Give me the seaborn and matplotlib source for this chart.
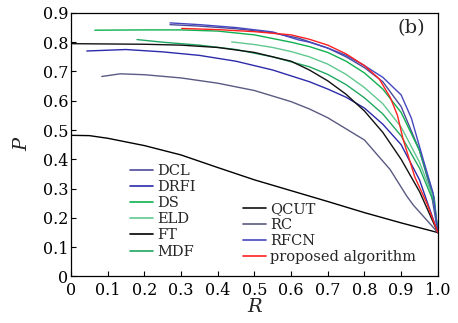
import numpy as np
import pandas as pd
import matplotlib
matplotlib.use("Agg")
import matplotlib.pyplot as plt
import seaborn as sns

# ------------------------------------------------------------------ #
# PR curves
# ------------------------------------------------------------------ #
methods = ["DCL", "DRFI", "DS", "ELD", "FT", "MDF",
           "QCUT", "RC", "RFCN", "proposed algorithm"]

colors = ["#4b4b9b", "#2b2bab", "#10b050", "#60c890", "#000000",
          "#20a860", "#111111", "#5a5a82", "#4646c0", "#ff2020"]

r_dcl = [0.27, 0.35, 0.45, 0.55, 0.62, 0.7, 0.75, 0.8, 0.85, 0.9, 0.95, 0.98, 1.0]
p_dcl = [0.860, 0.855, 0.846, 0.832, 0.814, 0.780, 0.750, 0.713, 0.665, 0.580, 0.430, 0.300, 0.150]

r_drfi = [0.043, 0.15, 0.25, 0.35, 0.45, 0.55, 0.65, 0.7, 0.75, 0.8, 0.85, 0.9, 0.95, 1.0]
p_drfi = [0.770, 0.775, 0.767, 0.755, 0.735, 0.705, 0.665, 0.640, 0.612, 0.575, 0.520, 0.450, 0.330, 0.150]

r_ds = [0.065, 0.2, 0.3, 0.4, 0.5, 0.6, 0.65, 0.7, 0.75, 0.8, 0.85, 0.9, 0.95, 0.99, 1.0]
p_ds = [0.841, 0.842, 0.842, 0.838, 0.825, 0.800, 0.785, 0.765, 0.735, 0.695, 0.640, 0.560, 0.430, 0.270, 0.150]

r_eld = [0.438, 0.5, 0.55, 0.6, 0.65, 0.7, 0.75, 0.8, 0.85, 0.9, 0.95, 0.99, 1.0]
p_eld = [0.801, 0.792, 0.782, 0.768, 0.750, 0.725, 0.690, 0.645, 0.590, 0.510, 0.390, 0.260, 0.150]

r_ft = [0.0, 0.05, 0.1, 0.2, 0.3, 0.4, 0.5, 0.6, 0.7, 0.8, 0.9, 1.0]
p_ft = [0.482, 0.481, 0.472, 0.447, 0.415, 0.372, 0.330, 0.293, 0.256, 0.218, 0.183, 0.150]

r_mdf = [0.18, 0.25, 0.35, 0.45, 0.55, 0.65, 0.7, 0.75, 0.8, 0.85, 0.9, 0.95, 0.99, 1.0]
p_mdf = [0.809, 0.800, 0.790, 0.775, 0.750, 0.716, 0.690, 0.655, 0.610, 0.555, 0.480, 0.370, 0.250, 0.150]

r_qcut = [0.0, 0.1, 0.2, 0.3, 0.4, 0.5, 0.6, 0.65, 0.7, 0.75, 0.8, 0.85, 0.9, 0.95, 1.0]
p_qcut = [0.795, 0.794, 0.793, 0.790, 0.782, 0.765, 0.735, 0.705, 0.668, 0.622, 0.565, 0.492, 0.400, 0.290, 0.150]

r_rc = [0.084, 0.134, 0.2, 0.3, 0.4, 0.5, 0.6, 0.65, 0.7, 0.8, 0.87, 0.915, 0.933, 1.0]
p_rc = [0.683, 0.692, 0.689, 0.678, 0.660, 0.635, 0.597, 0.572, 0.542, 0.466, 0.365, 0.275, 0.244, 0.150]

r_rfcn = [0.27, 0.35, 0.45, 0.55, 0.62, 0.65, 0.7, 0.75, 0.8, 0.85, 0.9, 0.928, 0.96, 0.987, 1.0]
p_rfcn = [0.866, 0.860, 0.850, 0.835, 0.808, 0.800, 0.780, 0.755, 0.720, 0.680, 0.620, 0.540, 0.400, 0.285, 0.150]

r_prop = [0.302, 0.4, 0.5, 0.6, 0.65, 0.7, 0.75, 0.8, 0.84, 0.87, 0.89, 0.905, 0.937, 0.97, 1.0]
p_prop = [0.847, 0.843, 0.836, 0.825, 0.810, 0.790, 0.760, 0.720, 0.675, 0.612, 0.550, 0.470, 0.340, 0.250, 0.150]

recalls = [r_dcl, r_drfi, r_ds, r_eld, r_ft, r_mdf, r_qcut, r_rc, r_rfcn, r_prop]
precisions = [p_dcl, p_drfi, p_ds, p_eld, p_ft, p_mdf, p_qcut, p_rc, p_rfcn, p_prop]

x_ticks = [0, 0.1, 0.2, 0.3, 0.4, 0.5, 0.6, 0.7, 0.8, 0.9, 1.0]
x_tick_labels = ["0", "0.1", "0.2", "0.3", "0.4", "0.5", "0.6", "0.7", "0.8", "0.9", "1.0"]
y_ticks = [0, 0.1, 0.2, 0.3, 0.4, 0.5, 0.6, 0.7, 0.8, 0.9]
y_tick_labels = ["0", "0.1", "0.2", "0.3", "0.4", "0.5", "0.6", "0.7", "0.8", "0.9"]

# long table for seaborn
rows = []
for name, rr, pp in zip(methods, recalls, precisions):
    for r, p in zip(rr, pp):
        rows.append({"method": name, "R": r, "P": p})
df = pd.DataFrame(rows)

# ------------------------------------------------------------------ #
# Plot
# ------------------------------------------------------------------ #
sns.set_style("ticks")
plt.rcParams["font.family"] = ["DejaVu Serif"]

fig = plt.figure(figsize=(4.58, 3.23), dpi=100)
ax = fig.add_axes([0.155, 0.144, 0.801, 0.816])

sns.lineplot(
    data=df, x="R", y="P", hue="method",
    hue_order=methods, palette=dict(zip(methods, colors)),
    sort=False, estimator=None, units="method",
    linewidth=1.0, legend=True, ax=ax,
)

ax.set_xlim(0, 1.0)
ax.set_ylim(0, 0.9)
ax.set_xticks(x_ticks)
ax.set_xticklabels(x_tick_labels)
ax.set_yticks(y_ticks)
ax.set_yticklabels(y_tick_labels)
ax.tick_params(direction="in", length=3.5, width=0.8, labelsize=11.5,
               colors="black")
ax.tick_params(axis="x", pad=4)
ax.tick_params(axis="y", pad=2)
for sp in ax.spines.values():
    sp.set_visible(True)
    sp.set_color("black")
    sp.set_linewidth(0.9)

ax.set_xlabel("R", fontsize=14, fontstyle="italic", labelpad=-1)
ax.set_ylabel("P", fontsize=14, fontstyle="italic", labelpad=8)

ax.text(0.965, 0.975, "(b)", transform=ax.transAxes, ha="right", va="top",
        fontsize=14)

# two legend blocks
handles, labels = ax.get_legend_handles_labels()
ax.get_legend().remove()
hmap = dict(zip(labels, handles))
left_names = methods[:6]
right_names = methods[6:]
for h in handles:
    h.set_linewidth(1.2)

leg1 = ax.legend([hmap[n] for n in left_names], left_names,
                 loc="upper left", bbox_to_anchor=(0.145, 0.45),
                 frameon=False, fontsize=10.5, handlelength=1.6,
                 handletextpad=0.3, labelspacing=0.15, borderaxespad=0)
ax.add_artist(leg1)
ax.legend([hmap[n] for n in right_names], right_names,
          loc="upper left", bbox_to_anchor=(0.452, 0.305),
          frameon=False, fontsize=10.5, handlelength=1.6,
          handletextpad=0.3, labelspacing=0.15, borderaxespad=0)

fig.savefig("out.png", dpi=100)
